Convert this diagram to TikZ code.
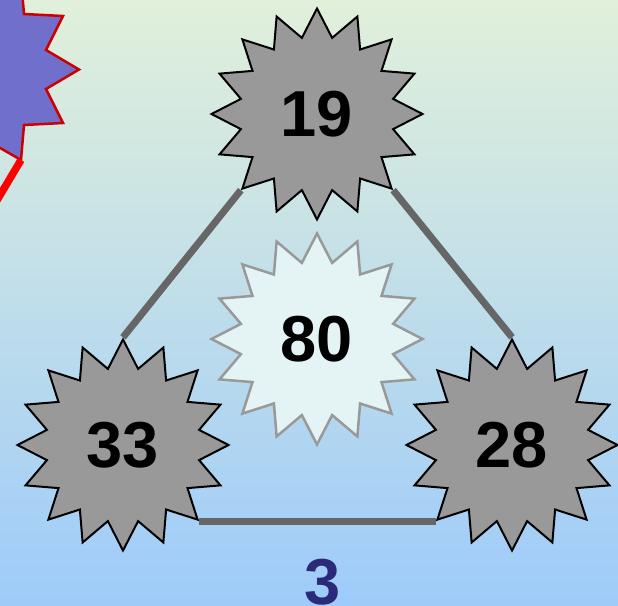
\documentclass[tikz,border=0pt]{standalone}
\usepackage{fontspec}
\setmainfont{Liberation Sans}
\usetikzlibrary{shapes.geometric}
\definecolor{bgtop}{HTML}{E1F0DA}
\definecolor{bgbot}{HTML}{9ECBFA}
\definecolor{starfill}{HTML}{999999}
\definecolor{edgegray}{HTML}{666666}
\definecolor{centerfill}{HTML}{E4F4F4}
\definecolor{purplefill}{HTML}{7070CC}
\definecolor{purpleline}{HTML}{CC0000}
\definecolor{navy}{HTML}{2A2A78}
\pgfdeclarelayer{back}
\pgfdeclarelayer{edges}
\pgfsetlayers{back,edges,main}
\tikzset{
  bigstar/.style={star, star points=16, star point ratio=1.36, minimum size=211pt,
    inner sep=0pt, line width=2pt, font=\fontsize{65}{65}\selectfont\bfseries},
  graystar/.style={bigstar, fill=starfill, draw=black},
  centerstar/.style={bigstar, fill=centerfill, draw=starfill, line width=2.5pt},
  edgeline/.style={draw=edgegray, line width=7pt},
  redline/.style={draw=red, line width=7.5pt}
}
\begin{document}
\begin{tikzpicture}[x=1pt,y=-1pt]
\useasboundingbox (0,0) rectangle (618,605);
\clip (0,0) rectangle (618,605);
\node[graystar] (s19) at (317,114) {19};
\node[centerstar] (s80) at (317,339) {80};
\node[graystar] (s33) at (123,445) {33};
\node[graystar] (s28) at (512,445) {28};
\node[font=\fontsize{65}{65}\selectfont\bfseries, text=navy, anchor=base, inner sep=0pt] (lbl) at (323,604) {3};
\begin{pgfonlayer}{back}
  \shade[top color=bgtop, bottom color=bgbot] (0,0) rectangle (618,605);
  \draw[fill=purplefill, draw=purpleline, line width=2.5pt, line join=miter]
    (-120,-60) -- (-12,-2) -- (21,-21) -- (24,14) -- (63,16) -- (46,50) -- (79,69.5)
    -- (46,89) -- (63,123) -- (24,125) -- (21,160) -- (-12,141) -- (-120,200) -- cycle;
  \coordinate (ptip) at (21,160);
  \coordinate (pend) at (-10,212);
  \draw[redline] (ptip) -- (pend);
\end{pgfonlayer}
\begin{pgfonlayer}{edges}
  \draw[edgeline] (s19.outer point 7) -- (s33.outer point 1);
  \draw[edgeline] (s19.outer point 11) -- (s28.outer point 1);
  \draw[edgeline] (s33.outer point 11) -- (s28.outer point 7);
\end{pgfonlayer}
\end{tikzpicture}
\end{document}
